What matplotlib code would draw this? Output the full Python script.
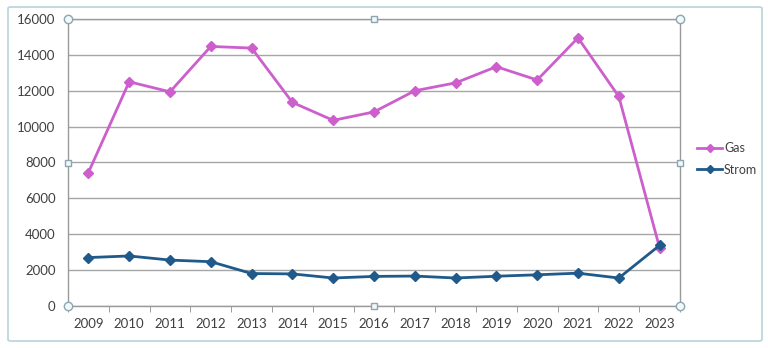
import matplotlib
matplotlib.use("Agg")
import matplotlib.pyplot as plt
from matplotlib.patches import FancyBboxPatch

years = ["2009", "2010", "2011", "2012", "2013", "2014", "2015", "2016",
         "2017", "2018", "2019", "2020", "2021", "2022", "2023"]
gas = [7440, 12500, 11940, 14470, 14380, 11350, 10350, 10820,
       12000, 12440, 13340, 12600, 14950, 11680, 3240]
strom = [2700, 2790, 2560, 2470, 1810, 1790, 1560, 1650,
         1670, 1560, 1660, 1740, 1830, 1560, 3380]
yticks = [0, 2000, 4000, 6000, 8000, 10000, 12000, 14000, 16000]

plt.rcParams['font.family'] = ['Lato', 'DejaVu Sans']

fig = plt.figure(figsize=(7.68, 3.48), dpi=100, facecolor='white')
# chart frame
frame = FancyBboxPatch((8 / 768, 7 / 348), 754 / 768, 334 / 348,
                       boxstyle="round,pad=0,rounding_size=0.004",
                       transform=fig.transFigure, facecolor='none',
                       edgecolor='#b9d3dc', linewidth=1.2, zorder=-5)
fig.patches.append(frame)

ax = fig.add_axes([68 / 768, 1 - 306 / 348, 612 / 768, 287 / 348])
ax.set_facecolor('none')
x = list(range(len(years)))
ax.plot(x, gas, color='#cc5fcc', lw=2.0, marker='D', ms=5.5,
        label='Gas', zorder=3)
ax.plot(x, strom, color='#1f5a8a', lw=2.0, marker='D', ms=5.5,
        label='Strom', zorder=4)

ax.set_xlim(-0.5, len(years) - 0.5)
ax.set_ylim(0, 16000)
ax.set_yticks(yticks)
ax.set_yticklabels([str(v) for v in yticks])
ax.set_xticks(x)
ax.set_xticklabels(years)
ax.set_xticks([i - 0.5 for i in range(len(years) + 1)], minor=True)
ax.tick_params(axis='x', which='major', length=0, pad=9,
               labelsize=9.5, labelcolor='#404040')
ax.tick_params(axis='x', which='minor', length=4, color='#8c8c8c',
               direction='out')
ax.tick_params(axis='y', length=0, pad=9, labelsize=9.5,
               labelcolor='#404040')
ax.yaxis.grid(True, color='#a6a6a6', lw=1.0)
ax.set_axisbelow(True)
for s in ax.spines.values():
    s.set_color('#9a9a9a')
    s.set_linewidth(1.0)

# selection handles
hc = '#8aa6b0'
for (hx, hy) in [(0, 0), (1, 0), (0, 1), (1, 1)]:
    ax.plot(hx, hy, 'o', ms=6, mfc='#f4f8f9', mec=hc, mew=1,
            transform=ax.transAxes, clip_on=False, zorder=6)
for (hx, hy) in [(0.5, 0), (0.5, 1), (0, 0.5), (1, 0.5)]:
    ax.plot(hx, hy, 's', ms=5, mfc='#f4f8f9', mec=hc, mew=1,
            transform=ax.transAxes, clip_on=False, zorder=6)

leg = fig.legend(loc='center left', bbox_to_anchor=(686 / 768, 1 - 159 / 348),
                 frameon=False, fontsize=9, handlelength=2.0,
                 handletextpad=0.15, labelspacing=0.75, markerscale=0.8)
for t in leg.get_texts():
    t.set_color('#404040')

fig.savefig('out.png', dpi=100, facecolor='white')
